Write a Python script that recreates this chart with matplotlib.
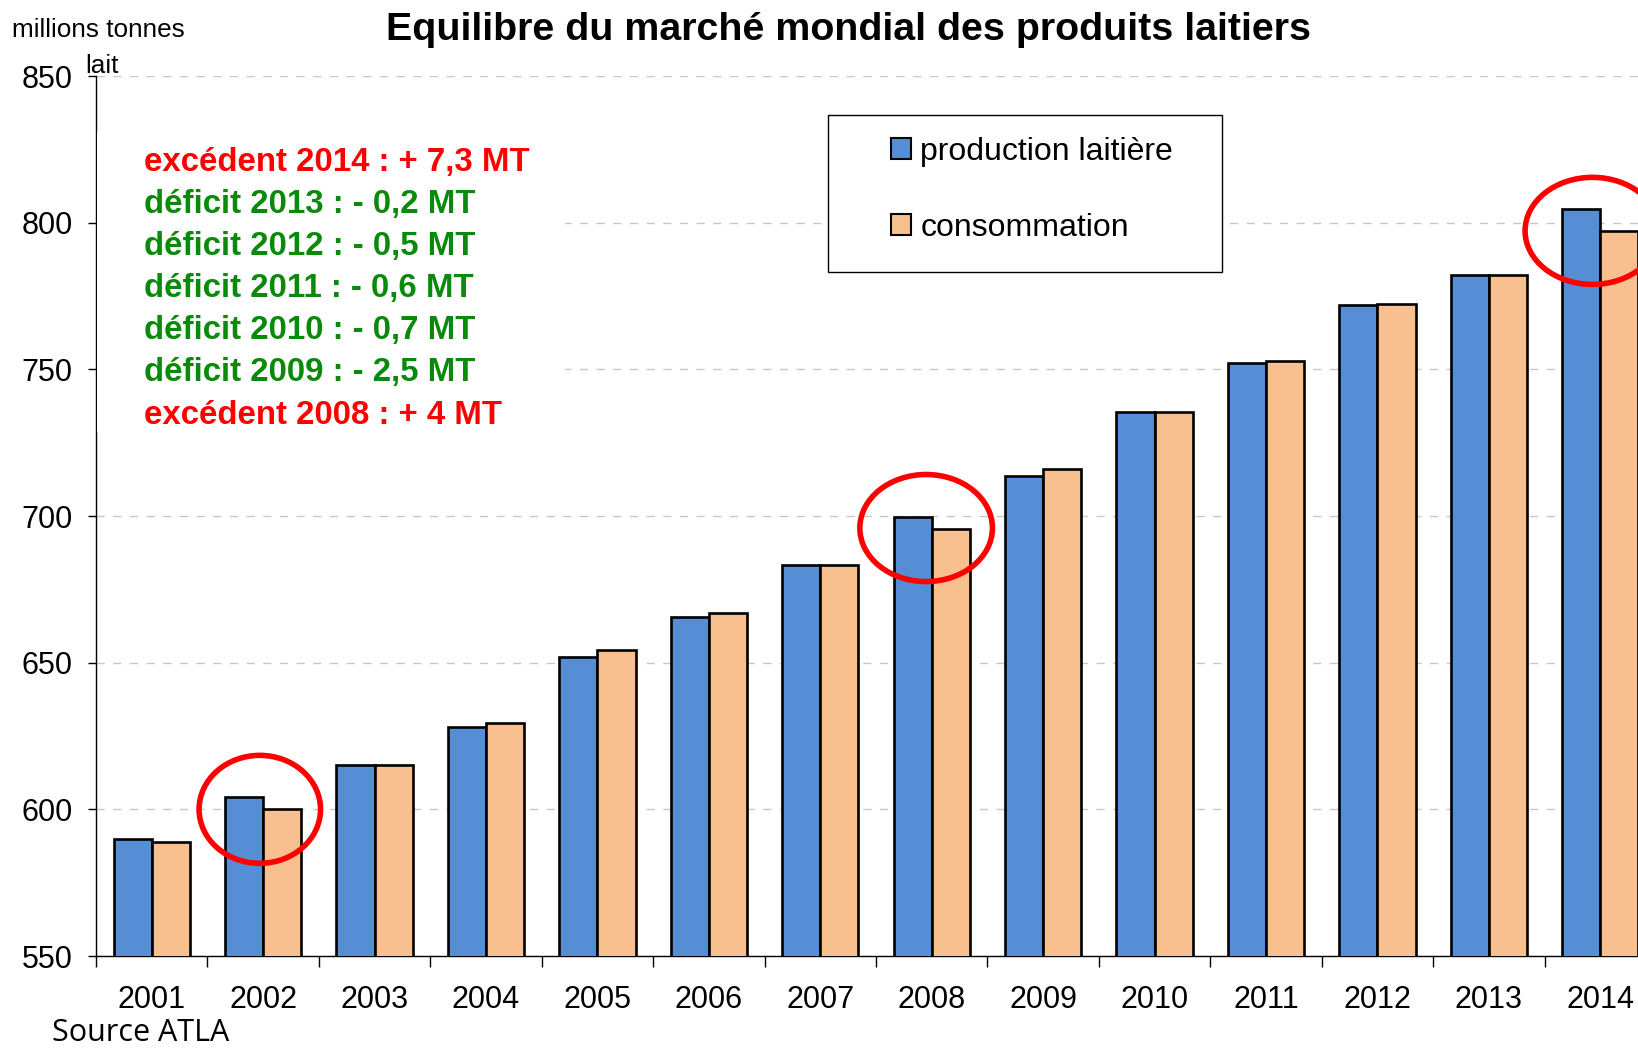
import matplotlib
matplotlib.use("Agg")
import matplotlib.pyplot as plt
from matplotlib.patches import Ellipse, Rectangle, Patch
import numpy as np

plt.rcParams['font.family'] = ['Liberation Sans', 'DejaVu Sans']

# data (millions tonnes lait)
years = ['2001', '2002', '2003', '2004', '2005', '2006', '2007',
         '2008', '2009', '2010', '2011', '2012', '2013', '2014']
production = [589.8, 604.2, 615.2, 628.0, 651.8, 665.5, 683.3,
              699.6, 713.5, 735.5, 752.3, 771.8, 782.0, 804.6]
consommation = [589.0, 600.0, 615.2, 629.6, 654.2, 667.0, 683.3,
                695.6, 716.0, 735.5, 753.0, 772.4, 782.0, 797.2]

# bilan annuel affiché en haut à gauche
bilan_lines = ['excédent 2014 : + 7,3 MT', 'déficit 2013 : - 0,2 MT',
               'déficit 2012 : - 0,5 MT', 'déficit 2011 : - 0,6 MT',
               'déficit 2010 : - 0,7 MT', 'déficit 2009 : - 2,5 MT',
               'excédent 2008 : + 4 MT']
bilan_colors = ['#ff0000', '#0a8a0a', '#0a8a0a', '#0a8a0a',
                '#0a8a0a', '#0a8a0a', '#ff0000']

# red circles: (x centre, y centre, width, height) in data units
circled = [(0.97, 600.0, 1.09, 36.8),
           (6.95, 695.9, 1.19, 36.5),
           (12.93, 797.2, 1.21, 36.5)]

W, H = 1638, 1049
fig = plt.figure(figsize=(W / 100, H / 100), dpi=100)

# axes run slightly past the right edge, like the cropped original
ax = fig.add_axes([96 / W, 1 - 956 / H, 1560 / W, (956 - 76) / H])

x = np.arange(len(years))
bw = 0.342
ax.bar(x - bw / 2, production, bw, color='#558ed5', edgecolor='black',
       linewidth=1.9, zorder=3)
ax.bar(x + bw / 2, consommation, bw, color='#f9c08f', edgecolor='black',
       linewidth=1.9, zorder=3)

ax.set_xlim(-0.5, len(years) - 0.5)
ax.set_ylim(550, 850)
ax.set_yticks(np.arange(550, 851, 50))
ax.yaxis.grid(True, color='#c8c8c8', linestyle=(0, (6, 6)), linewidth=1)
ax.set_axisbelow(True)

ax.set_xticks(x)
ax.set_xticklabels(years)
ax.set_xticks(np.arange(-0.5, len(years), 1), minor=True)
ax.tick_params(axis='x', which='major', length=0, pad=21, labelsize=22)
ax.tick_params(axis='x', which='minor', length=8, width=1, direction='out')
ax.tick_params(axis='y', length=6, width=1, pad=11, labelsize=22)

for s in ['top', 'right']:
    ax.spines[s].set_visible(False)
ax.spines['left'].set_linewidth(1)
ax.spines['bottom'].set_linewidth(1)

for xc, yc, ew, eh in circled:
    ax.add_patch(Ellipse((xc, yc), ew, eh, fill=False,
                         edgecolor='#ff0000', linewidth=4, zorder=5,
                         clip_on=False))

# white band behind the text block
fig.add_artist(Rectangle((97 / W, 1 - 432 / H), (565 - 97) / W, 300 / H,
                         transform=fig.transFigure, facecolor='white',
                         edgecolor='none', zorder=2))
for i, (line, c) in enumerate(zip(bilan_lines, bilan_colors)):
    fig.text(144 / W, 1 - (162 + i * 42.2) / H, line, color=c,
             fontsize=23.8, fontweight='bold', va='center', ha='left', zorder=3)

# legend box
fig.add_artist(Rectangle((828 / W, 1 - 272 / H), (1222 - 828) / W, 157 / H,
                         transform=fig.transFigure, facecolor='white',
                         edgecolor='black', linewidth=1, zorder=2))
handles = [Patch(facecolor='#558ed5', edgecolor='black', linewidth=1.5),
           Patch(facecolor='#f9c08f', edgecolor='black', linewidth=1.5)]
leg = fig.legend(handles, ['production laitière', 'consommation'],
                 loc='upper left', bbox_to_anchor=(891 / W, 1 - 137 / H),
                 frameon=False, fontsize=23, handlelength=0.62,
                 handleheight=0.62, handletextpad=0.3, labelspacing=1.44,
                 borderpad=0, borderaxespad=0)
leg.set_zorder(4)

fig.text(848 / W, 1 - 30 / H, 'Equilibre du marché mondial des produits laitiers',
         fontsize=28.4, fontweight='bold', ha='center', va='center')
fig.text(12 / W, 1 - 30 / H, 'millions tonnes', fontsize=18.8, ha='left', va='center')
fig.text(85 / W, 1 - 66 / H, 'lait', fontsize=18.8, ha='left', va='center')
fig.text(52 / W, 1 - 1033 / H, 'Source ATLA', fontsize=22, ha='left',
         va='center', family=['Open Sans', 'DejaVu Sans'])

fig.savefig('out.png', dpi=100)
